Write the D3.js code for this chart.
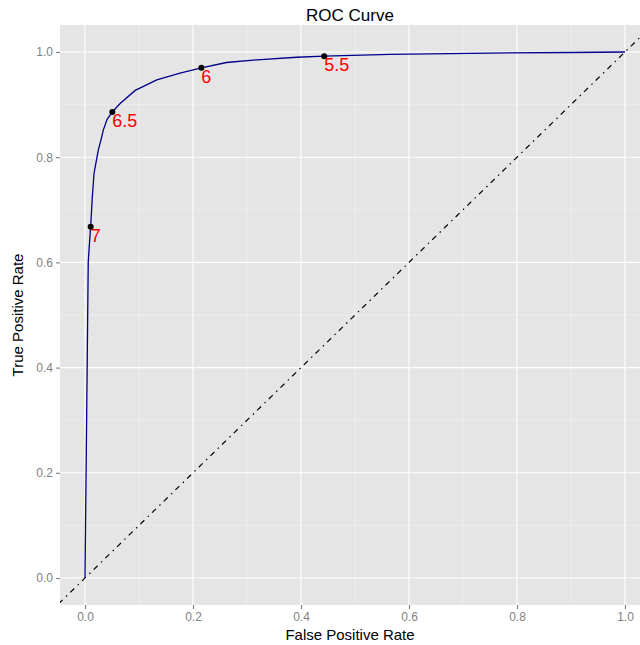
<!DOCTYPE html>
<html><head><meta charset="utf-8">
<script src="https://cdn.jsdelivr.net/npm/d3@7"></script>
<style>body{margin:0;background:#fff}svg{display:block;font-family:"Liberation Sans",Arial,Helvetica,sans-serif}</style>
</head><body><svg id="c" width="640" height="645"></svg>
<script>
const fpr = [0, 0.001, 0.002, 0.004, 0.006, 0.0085, 0.0105, 0.0136, 0.0167, 0.019, 0.0247, 0.0296, 0.034, 0.041, 0.0506, 0.065, 0.093, 0.133, 0.176, 0.2155, 0.262, 0.318, 0.392, 0.443, 0.565, 0.75, 0.9, 1.0];
const tpr = [0, 0.1, 0.2, 0.4, 0.6, 0.64, 0.668, 0.725, 0.769, 0.782, 0.814, 0.833, 0.852, 0.872, 0.886, 0.902, 0.927, 0.947, 0.960, 0.970, 0.980, 0.985, 0.990, 0.992, 0.9956, 0.998, 0.999, 1.0];
const cutLabels = ["7", "6.5", "6", "5.5"];
const cutFpr = [0.0105, 0.0506, 0.2155, 0.443];
const cutTpr = [0.668, 0.886, 0.970, 0.992];
const xTicks = [0, 0.2, 0.4, 0.6, 0.8, 1.0];
const yTicks = [0, 0.2, 0.4, 0.6, 0.8, 1.0];
const xMinor = [0.1, 0.3, 0.5, 0.7, 0.9];
const yMinor = [0.1, 0.3, 0.5, 0.7, 0.9];

const svg = d3.select("#c");
const L = 60, R = 640, T = 25, B = 605;
const x = d3.scaleLinear().domain([-0.0463, 1.0278]).range([L, R]);
const y = d3.scaleLinear().domain([-0.0513, 1.0513]).range([B, T]);

svg.append("rect").attr("x", L).attr("y", T).attr("width", R - L).attr("height", B - T).attr("fill", "#E5E5E5");
const g = svg.append("g");
g.selectAll(".xm").data(xMinor).join("line").attr("x1", d => x(d)).attr("x2", d => x(d)).attr("y1", T).attr("y2", B).attr("stroke", "#F2F2F2").attr("stroke-width", 0.6);
g.selectAll(".ym").data(yMinor).join("line").attr("y1", d => y(d)).attr("y2", d => y(d)).attr("x1", L).attr("x2", R).attr("stroke", "#F2F2F2").attr("stroke-width", 0.6);
g.selectAll(".xM").data(xTicks).join("line").attr("x1", d => x(d)).attr("x2", d => x(d)).attr("y1", T).attr("y2", B).attr("stroke", "#fff").attr("stroke-width", 1.1);
g.selectAll(".yM").data(yTicks).join("line").attr("y1", d => y(d)).attr("y2", d => y(d)).attr("x1", L).attr("x2", R).attr("stroke", "#fff").attr("stroke-width", 1.1);

svg.append("clipPath").attr("id", "pc").append("rect").attr("x", L).attr("y", T).attr("width", R - L).attr("height", B - T);
const pg = svg.append("g").attr("clip-path", "url(#pc)");
pg.append("line").attr("x1", x(-0.1)).attr("y1", y(-0.1)).attr("x2", x(1.1)).attr("y2", y(1.1))
  .attr("stroke", "#000").attr("stroke-width", 1.2).attr("stroke-dasharray", "1.5,4.5,5.5,4.8");

const line = d3.line().x(d => x(d[0])).y(d => y(d[1]));
pg.append("path").datum(fpr.map((f, i) => [f, tpr[i]])).attr("d", line)
  .attr("fill", "none").attr("stroke", "#00008B").attr("stroke-width", 1.3);

pg.selectAll(".pt").data(cutLabels).join("circle").attr("cx", (d, i) => x(cutFpr[i])).attr("cy", (d, i) => y(cutTpr[i])).attr("r", 3).attr("fill", "#000");
pg.selectAll(".lb").data(cutLabels).join("text").attr("x", (d, i) => x(cutFpr[i])).attr("y", (d, i) => y(cutTpr[i]) + 15)
  .attr("fill", "#FF0000").attr("font-size", 18).text(d => d);

const xa = svg.append("g").attr("transform", `translate(0,${B})`)
  .call(d3.axisBottom(x).tickValues(xTicks).tickFormat(d3.format(".1f")).tickSize(4).tickPadding(3));
const ya = svg.append("g").attr("transform", `translate(${L},0)`)
  .call(d3.axisLeft(y).tickValues(yTicks).tickFormat(d3.format(".1f")).tickSize(4).tickPadding(3));
[xa, ya].forEach(a => {
  a.select(".domain").remove();
  a.selectAll(".tick line").attr("stroke", "#7F7F7F").attr("stroke-width", 1.1);
  a.selectAll(".tick text").attr("fill", "#7F7F7F").attr("font-size", 12).attr("font-family", "'Liberation Sans',Arial,sans-serif");
});

svg.append("text").attr("x", (L + R) / 2).attr("y", 21).attr("text-anchor", "middle").attr("font-size", 17).attr("fill", "#000").text("ROC Curve");
svg.append("text").attr("x", (L + R) / 2).attr("y", 640).attr("text-anchor", "middle").attr("font-size", 15).attr("fill", "#000").text("False Positive Rate");
svg.append("text").attr("transform", `translate(23,${(T + B) / 2}) rotate(-90)`).attr("text-anchor", "middle").attr("font-size", 15).attr("fill", "#000").text("True Positive Rate");
</script></body></html>
